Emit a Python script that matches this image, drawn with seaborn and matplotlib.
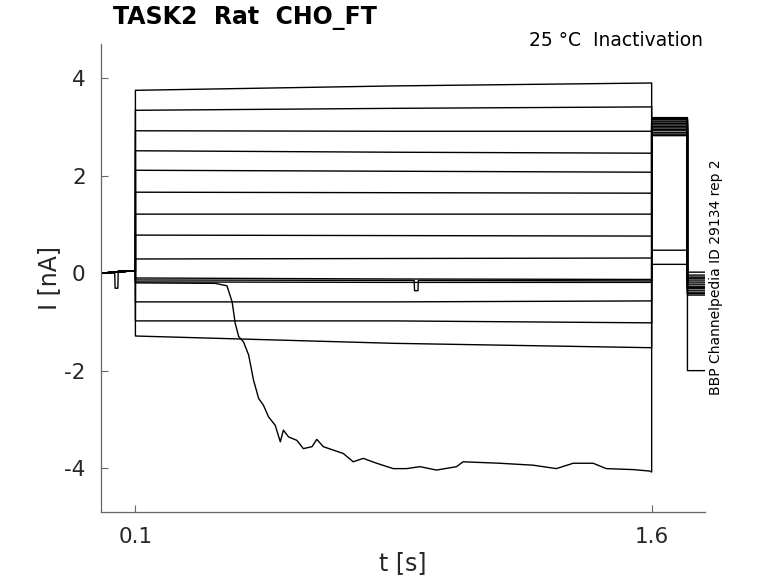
import numpy as np
import pandas as pd
import matplotlib
matplotlib.use("Agg")
import matplotlib.pyplot as plt
import seaborn as sns

# protocol epochs [s]
t_epochs = [0.0, 0.1, 1.6, 1.704, 1.755]

# holding current [nA] (0 - 0.1 s), one sweep has a small artefact
hold_level = 0.0
blip_t = [0.040, 0.041, 0.049, 0.050]
blip_i = [0.0, -0.31, -0.31, 0.05]

# step current [nA]: start (0.1 s), middle (~0.85 s), end (1.6 s)
step_start = [3.75, 3.34, 2.92, 2.51, 2.11, 1.66, 1.21, 0.78, 0.29, -0.10, -0.14, -0.18, -0.59, -0.98, -1.29]
step_mid = [3.84, 3.38, 2.91, 2.48, 2.09, 1.65, 1.21, 0.77, 0.30, -0.12, -0.15, -0.19, -0.59, -0.98, -1.44]
step_end = [3.90, 3.41, 2.91, 2.46, 2.07, 1.64, 1.21, 0.76, 0.31, -0.13, -0.16, -0.19, -0.57, -1.02, -1.53]

# tail currents [nA]
tail1 = [3.19, 3.15, 3.12, 3.10, 3.07, 3.04, 3.01, 2.98, 2.95, 2.92, 2.88, 2.85, 2.82, 0.47, 0.18]
tail2 = [0.02, -0.04, -0.08, -0.12, -0.16, -0.20, -0.24, -0.28, -0.31, -0.35, -0.39, -0.42, -0.45, -0.30, -2.0]

# sweep with the small artefact around 0.91 s
art_t = [0.910, 0.911, 0.921, 0.922]
art_i = [-0.15, -0.36, -0.36, -0.15]

# sweep that runs down during the step
run_t = [0.1, 0.332, 0.366, 0.381, 0.390, 0.400, 0.414, 0.429, 0.443, 0.458, 0.472, 0.487,
         0.506, 0.521, 0.530, 0.545, 0.569, 0.588, 0.613, 0.627, 0.646, 0.675, 0.704, 0.733,
         0.762, 0.801, 0.849, 0.888, 0.927, 0.975, 1.033, 1.052, 1.159, 1.256, 1.323, 1.372,
         1.430, 1.468, 1.546, 1.594, 1.6]
run_i = [-0.20, -0.21, -0.26, -0.59, -1.03, -1.30, -1.41, -1.68, -2.19, -2.57, -2.71, -2.95,
         -3.12, -3.46, -3.22, -3.36, -3.43, -3.60, -3.56, -3.41, -3.56, -3.63, -3.70, -3.87,
         -3.80, -3.90, -4.01, -4.01, -3.97, -4.04, -3.97, -3.87, -3.90, -3.94, -4.01, -3.90,
         -3.90, -4.01, -4.03, -4.06, -4.08]
run_tail1 = 3.17
run_tail2 = -0.10

rows = []
t0, t1, t2, t3, t4 = t_epochs
t_mid = 0.85
for k in range(len(step_start)):
    ts = [t0]
    ys = [hold_level]
    if k == 0:
        ts += blip_t
        ys += blip_i
    ts += [t1, t1, t_mid, t2, t2, t3, t3, t4]
    ys += [0.05, step_start[k], step_mid[k], step_end[k], tail1[k], tail1[k], tail2[k], tail2[k]]
    if k == 10:
        ts = ts[:4] + art_t + ts[4:]
        ys = ys[:4] + art_i + ys[4:]
    for t, y in zip(ts, ys):
        rows.append((k, t, y))

k = len(step_start)
ts = [t0, t1] + run_t + [t2, t3, t3, t4]
ys = [hold_level, 0.05] + run_i + [run_tail1, run_tail1, run_tail2, run_tail2]
for t, y in zip(ts, ys):
    rows.append((k, t, y))

df = pd.DataFrame(rows, columns=["sweep", "t", "I"])

sns.set_theme(style="white")
plt.rcParams["font.family"] = ["DejaVu Sans"]

fig = plt.figure(figsize=(7.78, 5.83), dpi=100)
ax = fig.add_axes([101 / 778, 1 - 512 / 583, 604 / 778, 468 / 583])

sns.lineplot(data=df, x="t", y="I", units="sweep", estimator=None, sort=False,
             color="black", linewidth=1.0, ax=ax, legend=False)

ax.set_xlim(0.0, 1.755)
ax.set_ylim(-4.9, 4.7)
ax.set_xticks([0.1, 1.6])
ax.set_xticklabels(["0.1", "1.6"])
ax.set_yticks([-4, -2, 0, 2, 4])
ax.set_yticklabels(["-4", "-2", "0", "2", "4"])
ax.tick_params(direction="in", length=5, width=0.8, colors="#666666",
               labelcolor="#262626", labelsize=15.5, pad=11)
ax.tick_params(axis="both", which="both", bottom=True, left=True)
for side in ["top", "right"]:
    ax.spines[side].set_visible(False)
for side in ["left", "bottom"]:
    ax.spines[side].set_color("#666666")
    ax.spines[side].set_linewidth(0.9)

ax.set_xlabel("t [s]", fontsize=17, color="#262626", labelpad=3)
ax.set_ylabel("I [nA]", fontsize=17, color="#262626", labelpad=2)

fig.text(113 / 778, 1 - 18 / 583, "TASK2  Rat  CHO_FT", fontsize=17, fontweight="bold",
         ha="left", va="center", color="black")
fig.text(703 / 778, 1 - 41 / 583, "25 °C  Inactivation", fontsize=13.5,
         ha="right", va="center", color="black")
fig.text(716 / 778, 1 - 277 / 583, "BBP Channelpedia ID 29134 rep 2", fontsize=10,
         rotation=90, ha="center", va="center", color="black")

fig.savefig("out.png", dpi=100)
